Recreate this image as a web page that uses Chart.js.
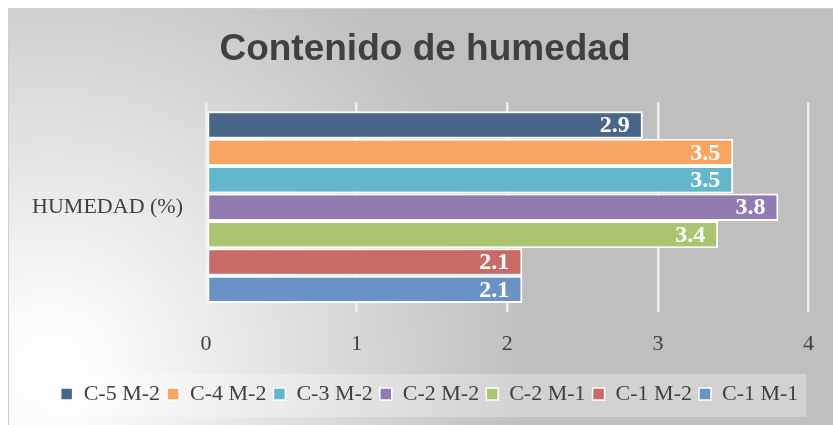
<!DOCTYPE html>
<html>
<head>
<meta charset="utf-8">
<script src="https://cdn.jsdelivr.net/npm/chart.js@4"></script>
<style>
  html, body { margin: 0; padding: 0; background: #ffffff; }
  canvas { display: block; }
</style>
</head>
<body>
<canvas id="myChart" width="833" height="425"></canvas>
<script>
// data
const categories = ['HUMEDAD (%)'];
const seriesNames = ['C-5 M-2', 'C-4 M-2', 'C-3 M-2', 'C-2 M-2', 'C-2 M-1', 'C-1 M-2', 'C-1 M-1'];
const seriesValues = [2.9, 3.5, 3.5, 3.8, 3.4, 2.1, 2.1];
const seriesColors = ['#4a6789', '#f8a462', '#62b7cd', '#917bb0', '#aac470', '#c96a66', '#6a93c5'];
const xTicks = [0, 1, 2, 3, 4];

const serif = "'Liberation Serif', 'DejaVu Serif', serif";

// title and legend sit a bit right of the canvas centre in the original
const nudge = {
  id: 'nudge',
  afterLayout(chart) {
    if (chart.titleBlock) chart.titleBlock.left += 41;
    if (chart.legend) {
      chart.legend.left += 25;
      chart.legend.right += 25;
    }
  }
};

// grey panel with a light glow bottom-left + lighter box behind the legend
const panelBg = {
  id: 'panelBg',
  beforeDraw(chart) {
    const ctx = chart.ctx;
    ctx.save();
    ctx.fillStyle = '#ffffff';
    ctx.fillRect(0, 0, chart.width, chart.height);
    const g = ctx.createRadialGradient(50, 370, 0, 50, 370, 480);
    g.addColorStop(0, '#ffffff');
    g.addColorStop(0.12, '#fbfbfb');
    g.addColorStop(1, '#bfbfbf');
    ctx.fillStyle = g;
    ctx.fillRect(8, 8, chart.width, chart.height);
    ctx.strokeStyle = '#cfcfcf';
    ctx.lineWidth = 1;
    ctx.beginPath();
    ctx.moveTo(8.5, chart.height);
    ctx.lineTo(8.5, 8.5);
    ctx.lineTo(chart.width, 8.5);
    ctx.stroke();

    const lg = chart.legend;
    if (lg && lg.lineWidths && lg.lineWidths.length) {
      const pad = lg.options.labels.padding;
      const start = (lg.left + pad + lg.right - lg.lineWidths[0]) / 2;
      const l = start - 10;
      const r = start + lg.lineWidths[0] - pad + 8;
      ctx.fillStyle = 'rgba(255,255,255,0.3)';
      ctx.fillRect(l, lg.top - 2, r - l, 43);
    }
    ctx.restore();
  }
};

// white value labels at the inside end of each bar
const barLabels = {
  id: 'barLabels',
  afterDatasetsDraw(chart) {
    const ctx = chart.ctx;
    ctx.save();
    ctx.font = "bold 24px " + serif;
    ctx.fillStyle = '#ffffff';
    ctx.textAlign = 'right';
    ctx.textBaseline = 'middle';
    chart.data.datasets.forEach((ds, i) => {
      const meta = chart.getDatasetMeta(i);
      meta.data.forEach((bar, j) => {
        ctx.fillText(ds.data[j].toFixed(1), bar.x - 13, bar.y + 1);
      });
    });
    ctx.restore();
  }
};

const ctx = document.getElementById('myChart');

new Chart(ctx, {
  type: 'bar',
  data: {
    labels: categories,
    datasets: seriesNames.map((name, i) => ({
      label: name,
      data: [seriesValues[i]],
      backgroundColor: seriesColors[i],
      borderColor: '#ffffff',
      borderWidth: 2,
      borderSkipped: false,
      categoryPercentage: 0.915,
      barPercentage: 1
    }))
  },
  options: {
    indexAxis: 'y',
    responsive: false,
    devicePixelRatio: 1,
    animation: false,
    layout: {
      padding: { left: 0, right: 24, top: 0, bottom: 10 }
    },
    scales: {
      x: {
        min: 0,
        max: 4,
        afterBuildTicks: axis => { axis.ticks = xTicks.map(v => ({ value: v })); },
        afterFit: axis => { axis.height = 64; },
        grid: {
          color: 'rgba(238,238,238,1)',
          lineWidth: 2.5,
          drawTicks: false
        },
        border: { display: false },
        ticks: {
          padding: 19,
          color: '#404040',
          font: { family: serif, size: 22 }
        }
      },
      y: {
        afterFit: axis => { axis.width = 206; },
        grid: { display: false, drawTicks: false },
        border: { display: false },
        ticks: {
          padding: 23,
          color: '#404040',
          font: { family: serif, size: 22 }
        }
      }
    },
    plugins: {
      title: {
        display: true,
        text: 'Contenido de humedad',
        color: '#404040',
        font: { family: "'Liberation Sans', Arial, sans-serif", size: 37, weight: 'bold' },
        padding: { top: 28, bottom: 30 }
      },
      legend: {
        display: true,
        position: 'bottom',
        labels: {
          color: '#404040',
          font: { family: serif, size: 22 },
          boxWidth: 12,
          boxHeight: 12,
          padding: 7,
          generateLabels: chart => Chart.defaults.plugins.legend.labels.generateLabels(chart)
            .map(item => Object.assign(item, { lineWidth: 1.5 }))
        }
      },
      tooltip: { enabled: false }
    }
  },
  plugins: [nudge, panelBg, barLabels]
});
</script>
</body>
</html>
